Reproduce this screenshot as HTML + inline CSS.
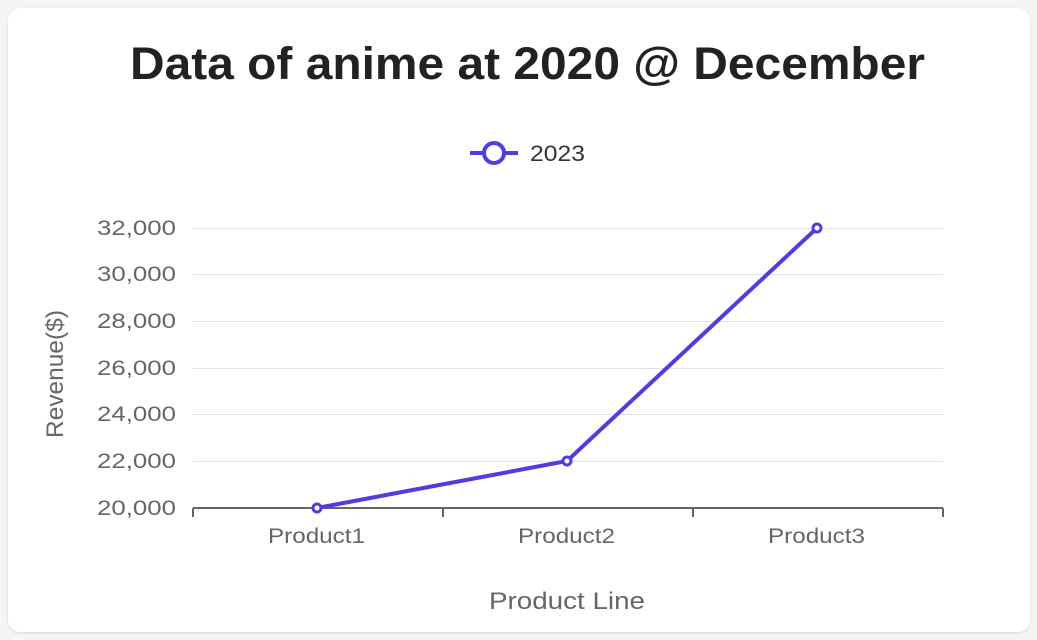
<!DOCTYPE html>
<html><head><meta charset="utf-8"><style>
html,body{margin:0;padding:0;width:1037px;height:640px;background:#f4f5f7;overflow:hidden}
.card{position:absolute;left:8px;top:8px;width:1022px;height:624px;background:#fff;border-radius:12px;box-shadow:0 1px 3px rgba(0,0,0,0.12)}
svg{position:absolute;left:0;top:0}
text{font-family:"Liberation Sans",sans-serif}
</style></head><body>
<div class="card"></div>
<svg width="1037" height="640">
<text x="130" y="79" textLength="795" lengthAdjust="spacingAndGlyphs" font-size="45" font-weight="bold" fill="#222">Data of anime at 2020 @ December</text>
<line x1="470" y1="153" x2="518" y2="153" stroke="#4f3ddf" stroke-width="4"/>
<circle cx="494" cy="153" r="10" fill="#fff" stroke="#4f3ddf" stroke-width="4"/>
<text x="530" y="161" font-size="22" textLength="55" lengthAdjust="spacingAndGlyphs" fill="#333">2023</text>
<g stroke="#e0e0ee" stroke-width="1">
<line x1="193" y1="228.5" x2="943" y2="228.5"/>
<line x1="193" y1="274.5" x2="943" y2="274.5"/>
<line x1="193" y1="321.5" x2="943" y2="321.5"/>
<line x1="193" y1="368.5" x2="943" y2="368.5"/>
<line x1="193" y1="414.5" x2="943" y2="414.5"/>
<line x1="193" y1="461.5" x2="943" y2="461.5"/>
</g>
<g stroke="#666" stroke-width="2">
<line x1="193" y1="508" x2="943" y2="508"/>
<line x1="193" y1="508" x2="193" y2="517"/>
<line x1="443" y1="508" x2="443" y2="517"/>
<line x1="693" y1="508" x2="693" y2="517"/>
<line x1="943" y1="508" x2="943" y2="517"/>
</g>
<g font-size="21" fill="#666">
<text x="97" y="235" textLength="79" lengthAdjust="spacingAndGlyphs">32,000</text>
<text x="97" y="281" textLength="79" lengthAdjust="spacingAndGlyphs">30,000</text>
<text x="97" y="328" textLength="79" lengthAdjust="spacingAndGlyphs">28,000</text>
<text x="97" y="375" textLength="79" lengthAdjust="spacingAndGlyphs">26,000</text>
<text x="97" y="421" textLength="79" lengthAdjust="spacingAndGlyphs">24,000</text>
<text x="97" y="468" textLength="79" lengthAdjust="spacingAndGlyphs">22,000</text>
<text x="97" y="515" textLength="79" lengthAdjust="spacingAndGlyphs">20,000</text>
</g>
<g font-size="21" fill="#666">
<text x="268" y="543" textLength="97" lengthAdjust="spacingAndGlyphs">Product1</text>
<text x="518" y="543" textLength="97" lengthAdjust="spacingAndGlyphs">Product2</text>
<text x="768" y="543" textLength="97" lengthAdjust="spacingAndGlyphs">Product3</text>
</g>
<text x="489" y="609" font-size="24" fill="#666" textLength="156" lengthAdjust="spacingAndGlyphs">Product Line</text>
<text transform="translate(63,438) rotate(-90)" font-size="24" fill="#666" textLength="128" lengthAdjust="spacingAndGlyphs">Revenue($)</text>
<polyline points="317,508 567,461 817,228" fill="none" stroke="#4f3ddf" stroke-width="4"/>
<g fill="#fff" stroke="#4f3ddf" stroke-width="3">
<circle cx="317" cy="508" r="4"/>
<circle cx="567" cy="461" r="4"/>
<circle cx="817" cy="228" r="4"/>
</g>
</svg>
</body></html>
